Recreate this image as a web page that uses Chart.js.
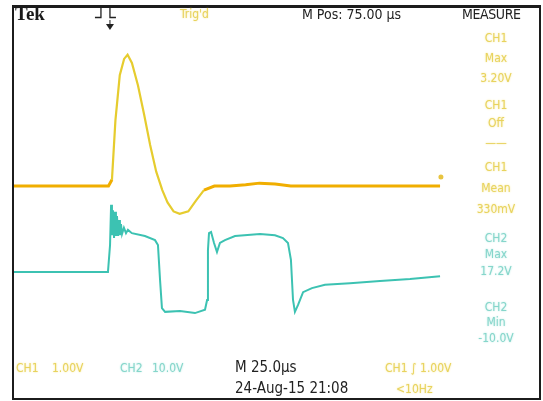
<!DOCTYPE html>
<html>
<head>
<meta charset="utf-8">
<script src="https://cdn.jsdelivr.net/npm/chart.js@4.4.1/dist/chart.umd.min.js"></script>
<style>
    body { margin: 0; background: #fff; }
    #wrap { position: relative; width: 543px; height: 401px; overflow: hidden; background: #fff; }
    #scope { position: absolute; left: 0; top: 0; }
    .frame { position: absolute; left: 12px; top: 5px; width: 525px; height: 390px;
             border: 2px solid #1c1c1c; border-top-width: 3px; }
    .t { position: absolute; white-space: nowrap; font-family: 'Liberation Sans Narrow', 'DejaVu Sans Condensed', sans-serif;
         font-size: 13px; line-height: 13px; color: #222; }
    .tek { font-family: 'Liberation Serif', serif; font-weight: bold; font-size: 19px; line-height: 19px; color: #1a1a1a; }
    .y { color: #e8d35e; text-shadow: 0 0 2px #f3e38a; font-size: 12px; }
    .c { color: #86d6cb; text-shadow: 0 0 2px #ace5dd; font-size: 12px; }
    .m { width: 60px; text-align: center; left: 466px; }
</style>
</head>
<body>
<div id="wrap">
    <canvas id="scope" width="543" height="401"></canvas>
    <div class="frame"></div>
    <div class="t tek" style="left:15px; top:4px;">Tek</div>
    <div class="t y" style="left:180px; top:8px;">Trig'd</div>
    <div class="t" style="left:302px; top:8px; font-size:14px;">M Pos: 75.00 µs</div>
    <div class="t" style="left:462px; top:8px; letter-spacing:-0.4px; font-size:14px;">MEASURE</div>

    <div class="t y m" style="top:32px;">CH1</div>
    <div class="t y m" style="top:52px;">Max</div>
    <div class="t y m" style="top:72px;">3.20V</div>
    <div class="t y m" style="top:99px;">CH1</div>
    <div class="t y m" style="top:117px;">Off</div>
    <div class="t y m" style="top:137px;">——</div>
    <div class="t y m" style="top:161px;">CH1</div>
    <div class="t y m" style="top:182px;">Mean</div>
    <div class="t y m" style="top:203px;">330mV</div>
    <div class="t c m" style="top:232px;">CH2</div>
    <div class="t c m" style="top:248px;">Max</div>
    <div class="t c m" style="top:265px;">17.2V</div>
    <div class="t c m" style="top:301px;">CH2</div>
    <div class="t c m" style="top:316px;">Min</div>
    <div class="t c m" style="top:332px;">-10.0V</div>

    <div class="t y" style="left:16px; top:362px;">CH1</div>
    <div class="t y" style="left:52px; top:362px;">1.00V</div>
    <div class="t c" style="left:120px; top:362px;">CH2</div>
    <div class="t c" style="left:152px; top:362px;">10.0V</div>
    <div class="t" style="left:235px; top:361px; font-size:15px;">M 25.0µs</div>
    <div class="t" style="left:235px; top:382px; font-size:15px;">24-Aug-15 21:08</div>
    <div class="t y" style="left:385px; top:362px;">CH1 ∫ 1.00V</div>
    <div class="t y" style="left:396px; top:383px;">&lt;10Hz</div>
</div>
<script>
// time in µs (25 µs/div), amplitude in divisions
const ch1Time = [0, 30, 55, 57, 59, 61.5, 64, 66, 68.5, 72, 75.5, 79, 82.5, 86, 89, 92.5, 96, 101, 105.5, 110, 116, 125, 134, 142, 151, 160, 195, 246];
const ch1Vals = [0, 0, 0, 0.15, 1.6, 2.7, 3.1, 3.2, 3.0, 2.45, 1.75, 1.0, 0.35, -0.1, -0.4, -0.62, -0.68, -0.62, -0.35, -0.1, 0, 0, 0.03, 0.07, 0.05, 0, 0, 0];

const ch2Time = [0, 54.7, 55.9, 56.5, 57.0, 57.6, 58.2, 58.8, 59.3, 59.9, 60.5, 61.1, 61.6, 62.2, 62.8, 63.9, 65.1, 66.2, 68.5,
    76.0, 81.8, 83.5, 84.7, 85.8, 87.6, 96.2, 104.8, 110.6, 111.8, 112.3, 112.9, 114.1, 115.8, 117.5, 119.2, 122.1, 127.9,
    142.3, 150.9, 155.5, 158.4, 160.1, 161.3, 162.4, 164.2, 167.1, 172.2, 179.7, 194.1, 211.4, 228.7, 246.0];
const ch2Vals = [-2.10, -2.10, -1.44, -0.46, -1.20, -0.59, -1.27, -0.63, -1.22, -0.73, -1.22, -0.83, -1.20, -0.93, -1.17, -1.02, -1.15, -1.07, -1.15,
    -1.22, -1.32, -1.44, -2.29, -2.98, -3.07, -3.05, -3.10, -3.02, -2.78, -1.56, -1.15, -1.12, -1.39, -1.61, -1.39, -1.32, -1.22,
    -1.17, -1.20, -1.27, -1.39, -1.80, -2.78, -3.07, -2.90, -2.59, -2.49, -2.41, -2.37, -2.32, -2.27, -2.20];

const CH1 = '#f0ae00';
const CH1_HI = '#e6cc2e';
const CH2 = '#3cc2b2';

const pts = (ts, vs) => ts.map((t, i) => ({ x: t, y: vs[i] }));
const swing = c => Math.max(Math.abs(c.p0.parsed.y), Math.abs(c.p1.parsed.y)) > 0.3;

// small scope markers: trigger position arrow, trigger level dot
const markers = {
    id: 'markers',
    afterDatasetsDraw(chart) {
        const { ctx, scales: { x, y } } = chart;
        const tx = x.getPixelForValue(57);
        ctx.save();
        ctx.strokeStyle = '#222'; ctx.lineWidth = 1.3;
        ctx.beginPath();
        ctx.moveTo(tx - 17, 17.5); ctx.lineTo(tx - 11, 17.5); ctx.lineTo(tx - 11, 7); ctx.lineTo(tx - 2, 7);
        ctx.lineTo(tx - 2, 17.5); ctx.lineTo(tx + 4, 17.5);
        ctx.stroke();
        ctx.fillStyle = '#222';
        ctx.beginPath();
        ctx.moveTo(tx - 6, 24); ctx.lineTo(tx + 2, 24); ctx.lineTo(tx - 2, 30); ctx.closePath();
        ctx.fill();
        ctx.fillRect(tx - 2.5, 20, 1, 4);
        ctx.fillStyle = '#e8c440';
        ctx.beginPath();
        ctx.arc(x.getPixelForValue(246.5), y.getPixelForValue(0.22), 2.5, 0, Math.PI * 2);
        ctx.fill();
        ctx.restore();
    }
};

new Chart(document.getElementById('scope'), {
    type: 'line',
    data: {
        datasets: [
            {
                label: 'CH1', data: pts(ch1Time, ch1Vals), borderColor: CH1, borderWidth: 3, pointRadius: 0, tension: 0,
                segment: { borderColor: c => swing(c) ? CH1_HI : undefined, borderWidth: c => swing(c) ? 2.2 : undefined }
            },
            { label: 'CH2', data: pts(ch2Time, ch2Vals), borderColor: CH2, borderWidth: 2, pointRadius: 0, tension: 0 }
        ]
    },
    options: {
        responsive: false,
        animation: false,
        layout: { padding: { left: 13, top: 22, right: 96, bottom: 51 } },
        plugins: { legend: { display: false }, tooltip: { enabled: false } },
        scales: {
            x: { type: 'linear', min: 0, max: 250, display: false },
            y: { min: -4, max: 4, display: false }
        }
    },
    plugins: [markers]
});
</script>
</body>
</html>
